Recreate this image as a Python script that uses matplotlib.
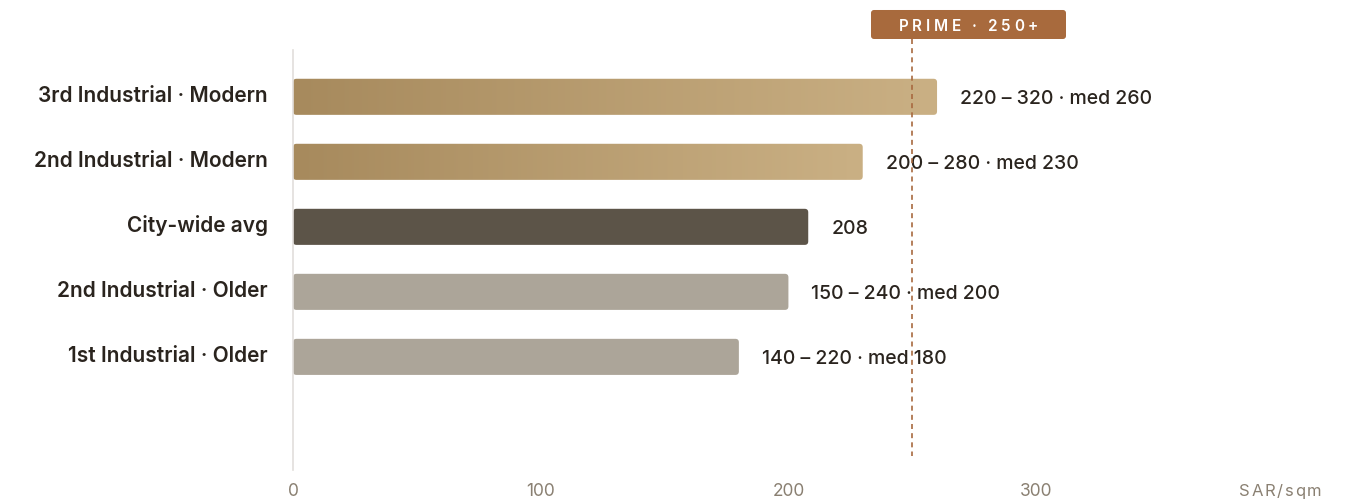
import matplotlib
matplotlib.use("Agg")
import matplotlib.pyplot as plt
import numpy as np
from matplotlib.patches import FancyBboxPatch
from matplotlib.colors import LinearSegmentedColormap

plt.rcParams['font.family'] = ['Inter', 'DejaVu Sans']

categories = ["3rd Industrial · Modern", "2nd Industrial · Modern", "City-wide avg",
              "2nd Industrial · Older", "1st Industrial · Older"]
medians = [260, 230, 208, 200, 180]
value_labels = ["220 – 320 · med 260", "200 – 280 · med 230", "208",
                "150 – 240 · med 200", "140 – 220 · med 180"]
kinds = ["modern", "modern", "avg", "older", "older"]
xticks = [0, 100, 200, 300]
prime_threshold = 250
badge_text = "PRIME · 250+"
unit_label = "SAR/sqm"

W, H = 1346, 502
fig = plt.figure(figsize=(W / 100, H / 100), dpi=100)
ax_left, ax_right, ax_top, ax_bot = 293, 1320, 51, 471
ax = fig.add_axes([ax_left / W, 1 - ax_bot / H, (ax_right - ax_left) / W, (ax_bot - ax_top) / H])

XMAX = 414.6
ax.set_xlim(0, XMAX)
ax.set_ylim(5.74, -0.72)

pxx = (ax_right - ax_left) / XMAX   # px per x unit
pxy = 65.0                           # px per y unit
bar_h = 0.555
rad_px = 3.5

grad = LinearSegmentedColormap.from_list("g", ["#a78a5d", "#cab084"])
solid = {"avg": "#5c5448", "older": "#aca599"}

for i, (v, k) in enumerate(zip(medians, kinds)):
    y0 = i - bar_h / 2
    patch = FancyBboxPatch((0, y0), v, bar_h,
                           boxstyle=f"round,pad=0,rounding_size={rad_px / pxx}",
                           mutation_aspect=(pxx / pxy),
                           linewidth=0,
                           facecolor=solid.get(k, "none"), zorder=2)
    ax.add_patch(patch)
    if k == "modern":
        g = np.linspace(0, 1, 256).reshape(1, -1)
        im = ax.imshow(g, cmap=grad, aspect="auto", extent=(0, v, y0 + bar_h, y0),
                       zorder=2, interpolation="bilinear")
        im.set_clip_path(patch)
    ax.text(v + 23 / pxx, i + 0.02, value_labels[i], ha="left", va="center",
            fontsize=14, fontweight="medium", color="#2a241e")
    ax.text(-25 / pxx, i - 0.03, categories[i], ha="right", va="center",
            fontsize=15, fontweight="semibold", color="#2a241e")

# prime dashed line
ax.plot([prime_threshold, prime_threshold], [-0.72 - 11 / pxy, -0.72 + (457 - ax_top) / pxy],
        linestyle=(0, (3, 2.5)), color="#a8693f", linewidth=1.2, clip_on=False, zorder=3)

# badge
bx0, bx1, by0, by1 = 871, 1066, 11, 40
bxd0 = (bx0 - ax_left) / pxx
bxd1 = (bx1 - ax_left) / pxx
byd0 = -0.72 + (by0 - ax_top) / pxy
byd1 = -0.72 + (by1 - ax_top) / pxy
badge = FancyBboxPatch((bxd0, byd0), bxd1 - bxd0, byd1 - byd0,
                       boxstyle=f"round,pad=0,rounding_size={3 / pxx}",
                       mutation_aspect=(pxx / pxy), linewidth=0,
                       facecolor="#a86a3d", clip_on=False, zorder=4)
ax.add_patch(badge)

renderer = fig.canvas.get_renderer()


def spaced_text(s, x_px, y_data, align, tracking_px, space_px, **kw):
    """Draw s one character at a time with extra tracking; x_px is pixel anchor."""
    texts, widths = [], []
    for ch in s:
        t = ax.text(0, y_data, ch, ha="left", va="center", clip_on=False, **kw)
        texts.append(t)
        widths.append(space_px if ch == " " else t.get_window_extent(renderer).width)
    total = sum(widths) + tracking_px * (len(s) - 1)
    if align == "center":
        x = x_px - total / 2
    elif align == "right":
        x = x_px - total
    else:
        x = x_px
    for t, w in zip(texts, widths):
        t.set_x((x - ax_left) / pxx)
        x += w + tracking_px


spaced_text(badge_text, (bx0 + bx1) / 2, (byd0 + byd1) / 2 + 0.01, "center", 3.6, 4.0,
            fontsize=11, fontweight="semibold", color="white", zorder=5)

# unit label at the bottom right
spaced_text(unit_label, 1321, -0.72 + (491 - ax_top) / pxy, "right", 1.6, 4.0,
            fontsize=12, color="#8a8072")

# axes styling
for s in ["top", "right", "bottom"]:
    ax.spines[s].set_visible(False)
ax.spines["left"].set_color("#e2dedb")
ax.spines["left"].set_linewidth(1.2)
ax.set_yticks([])
ax.set_xticks(xticks)
ax.set_xticklabels([str(t) for t in xticks], fontsize=12.5, color="#8a8072")
ax.tick_params(axis="x", length=0, pad=9)

fig.savefig("out.png", dpi=100, facecolor="white")
